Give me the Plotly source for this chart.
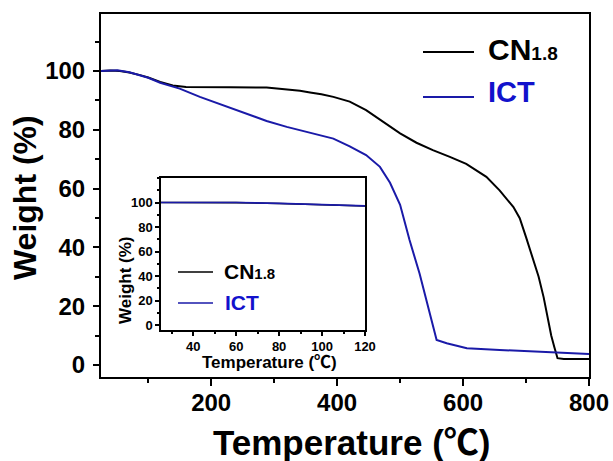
import plotly.graph_objects as go

# ---------------- data ----------------
temp_cn = [25, 40, 55, 70, 87, 100, 119, 139, 160, 182, 230, 288, 320, 341, 357, 375, 394,
           420, 446, 473, 500, 526, 552, 579, 605, 637, 658, 680, 690, 700, 710, 720, 728,
           735, 740, 745, 750, 760, 800]
weight_cn = [100, 100.2, 100, 99.5, 98.6, 97.8, 96.3, 95.1, 94.6, 94.5, 94.5, 94.4, 93.8, 93.3,
             92.7, 92.1, 91.2, 89.6, 86.7, 82.7, 78.8, 75.6, 73.1, 70.8, 68.4, 64.0, 59.4, 53.7,
             49.9, 43.5, 36.5, 30.0, 23.0, 15.0, 10.0, 6.0, 2.3, 2.0, 2.0]

temp_ict = [25, 51, 70, 87, 100, 119, 150, 182, 235, 288, 320, 341, 367, 394, 420, 446, 468,
            484, 500, 515, 531, 547, 558, 574, 606, 658, 720, 800]
weight_ict = [100, 100.3, 99.6, 98.6, 97.7, 96.0, 94.0, 91.2, 87.0, 83.0, 81.0, 79.9, 78.6, 77.0,
              74.4, 71.4, 67.4, 62.0, 54.5, 42.5, 31.0, 17.6, 8.5, 7.4, 5.7, 5.1, 4.4, 3.7]

inset_temp = [25, 40, 60, 80, 100, 120]
inset_cn = [100.0, 100.1, 99.9, 99.2, 98.3, 97.2]
inset_ict = [100.0, 100.2, 100.0, 99.3, 98.4, 97.3]

main_x_ticks = [200, 400, 600, 800]
main_y_ticks = [0, 20, 40, 60, 80, 100]
inset_x_ticks = [40, 60, 80, 100, 120]
inset_y_ticks = [0, 20, 40, 60, 80, 100]

names = ["CN", "ICT"]
name_sub = "1.8"
x_title = "Temperature (℃)"
y_title = "Weight (%)"

# ---------------- styling ----------------
W, H = 613, 461
FONT = "Liberation Sans, Arial, Noto Sans CJK SC, sans-serif"
BLACK = "#000000"
BLUE = "#1a1aa8"
BLUE_TXT = "#1212cc"


def px(x):
    return x / W


def py(y):
    return 1 - y / H


fig = go.Figure()
fig.add_trace(go.Scatter(x=temp_cn, y=weight_cn, mode="lines", line=dict(color=BLACK, width=2),
                         xaxis="x", yaxis="y", showlegend=False))
fig.add_trace(go.Scatter(x=temp_ict, y=weight_ict, mode="lines", line=dict(color=BLUE, width=2),
                         xaxis="x", yaxis="y", showlegend=False))
fig.add_trace(go.Scatter(x=inset_temp, y=inset_cn, mode="lines", line=dict(color=BLACK, width=1.6),
                         xaxis="x2", yaxis="y2", showlegend=False))
fig.add_trace(go.Scatter(x=inset_temp, y=inset_ict, mode="lines", line=dict(color=BLUE, width=1.6),
                         xaxis="x2", yaxis="y2", showlegend=False))

main_tickfont = dict(family=FONT, size=24, color=BLACK, weight="bold")
inset_tickfont = dict(family=FONT, size=13, color=BLACK, weight="bold")

fig.update_layout(
    width=W, height=H, autosize=False,
    margin=dict(l=0, r=0, t=0, b=0, pad=0),
    paper_bgcolor="white", plot_bgcolor="white",
    xaxis=dict(domain=[px(101), px(589)], range=[25, 800], tickvals=main_x_ticks,
               ticks="outside", ticklen=7, tickwidth=2, tickcolor=BLACK, ticklabelstandoff=-4,
               minor=dict(dtick=100, tick0=0, ticks="outside", ticklen=4, tickwidth=2, tickcolor=BLACK),
               showline=True, linewidth=2, linecolor=BLACK, mirror=True, automargin=False,
               showgrid=False, zeroline=False, tickfont=main_tickfont, anchor="y"),
    yaxis=dict(domain=[py(377), py(14)], range=[-4.1, 119.4], tickvals=main_y_ticks,
               ticks="outside", ticklen=6, tickwidth=2, tickcolor=BLACK, ticklabelstandoff=3,
               minor=dict(dtick=10, tick0=0, ticks="outside", ticklen=4, tickwidth=2, tickcolor=BLACK),
               showline=True, linewidth=2, linecolor=BLACK, mirror=True, automargin=False,
               showgrid=False, zeroline=False, tickfont=main_tickfont, anchor="x"),
    xaxis2=dict(domain=[px(161), px(365)], range=[25, 120], tickvals=inset_x_ticks,
                ticks="outside", ticklen=4, tickwidth=1.5, tickcolor=BLACK,
                minor=dict(dtick=10, tick0=0, ticks="outside", ticklen=2.5, tickwidth=1.5, tickcolor=BLACK),
                showline=True, linewidth=1.5, linecolor=BLACK, mirror=True, automargin=False,
                showgrid=False, zeroline=False, tickfont=inset_tickfont, anchor="y2"),
    yaxis2=dict(domain=[py(330), py(178)], range=[-4, 120], tickvals=inset_y_ticks,
                ticks="outside", ticklen=4, tickwidth=1.5, tickcolor=BLACK,
                minor=dict(dtick=10, tick0=0, ticks="outside", ticklen=2.5, tickwidth=1.5, tickcolor=BLACK),
                showline=True, linewidth=1.5, linecolor=BLACK, mirror=True, automargin=False,
                showgrid=False, zeroline=False, tickfont=inset_tickfont, anchor="x2"),
)

ann = []


def text(x, y, s, size, color=BLACK, angle=0, xanchor="center"):
    ann.append(dict(x=px(x), y=py(y), xref="paper", yref="paper", text=s, showarrow=False,
                    textangle=angle, xanchor=xanchor, yanchor="middle",
                    font=dict(family=FONT, size=size, color=color, weight="bold")))


# axis titles
text(352, 442, x_title, 35)
text(25, 198, y_title, 32, angle=-90)
text(269, 362.5, x_title, 17)
text(125, 280, y_title, 17, angle=-90)

# legends (main and inset)
shapes = []


def legline(x0, x1, y, color, w):
    shapes.append(dict(type="line", xref="paper", yref="paper", x0=px(x0), x1=px(x1),
                       y0=py(y), y1=py(y), line=dict(color=color, width=w)))


legline(423, 474, 52, BLACK, 2)
legline(423, 474, 97, BLUE, 2)
text(486, 49, names[0] + "<span style='font-size:19px'>" + name_sub + "</span>", 30, xanchor="left")
text(486, 92, names[1], 29, color=BLUE_TXT, xanchor="left")

legline(178, 213, 272, BLACK, 1.6)
legline(178, 213, 303, BLUE, 1.6)
text(222, 271, names[0] + "<span style='font-size:15px'>" + name_sub + "</span>", 21, xanchor="left")
text(223, 302, names[1], 21, color=BLUE_TXT, xanchor="left")

fig.update_layout(annotations=ann, shapes=shapes)
fig.write_html("out.html")
